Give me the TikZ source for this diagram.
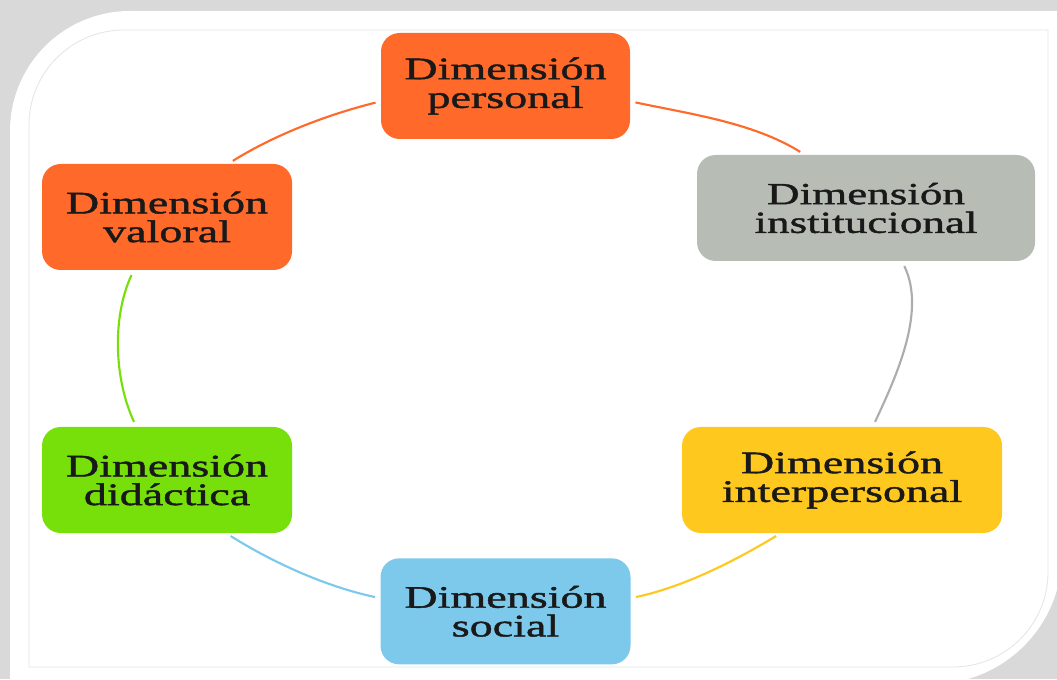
\documentclass[tikz,border=0pt]{standalone}
\usepackage{fontspec}
\usetikzlibrary{positioning}
\newfontfamily\dimfont[FakeStretch=1.47,FakeBold=1.4]{Liberation Serif}

\definecolor{naranja}{HTML}{FF6A2A}
\definecolor{gris}{HTML}{B7BDB5}
\definecolor{grisarco}{HTML}{ACAEAA}
\definecolor{amarillo}{HTML}{FFC81E}
\definecolor{celeste}{HTML}{7DC9EC}
\definecolor{verde}{HTML}{77E00B}
\definecolor{fondo}{HTML}{D9D9D9}
\definecolor{marco}{HTML}{E4E4E4}

\begin{document}
\begin{tikzpicture}[x=0.75pt,y=0.75pt,on grid,
 dim/.style={rectangle,rounded corners=14pt,inner sep=0pt,minimum width=187.5pt,minimum height=79.5pt,
  align=center,text=black!90,font=\dimfont\fontsize{23.5}{21.5}\selectfont},
 link/.style={line width=1.6pt,looseness=.85,shorten >=4pt,shorten <=4pt}]

 \useasboundingbox (0,0) rectangle (1057,679);
 \clip (0,0) rectangle (1057,679);
 % marco
 \fill[fondo] (0,0) rectangle (1057,679);
 \fill[white] (10,-5) -- (10,548) arc[start angle=180,end angle=90,radius=90pt]
  -- (1062,668) -- (1062,125) arc[start angle=0,end angle=-90,radius=97.5pt] -- cycle;
 \draw[marco,line width=0.6pt] (29,12) -- (29,554) arc[start angle=180,end angle=90,radius=71.25pt]
  -- (1048,649) -- (1048,107) arc[start angle=0,end angle=-90,radius=71.25pt] -- cycle;

 \node[dim,fill=naranja,minimum width=186.75pt] (per) at (505.5,593) {Dimensión\\personal};
 \node[dim,fill=gris,minimum width=253.5pt,font=\dimfont\fontsize{23}{21.5}\selectfont] (ins) [below right=91.5pt and 270.4pt of per] {Dimensión\\institucional};
 \node[dim,fill=amarillo,minimum width=240pt] (inter) [below left=204pt and 18pt of ins] {Dimensión\\interpersonal};
 \node[dim,fill=celeste] (soc) [below=394pt of per] {Dimensión\\social};
 \node[dim,fill=verde] (did) [left=506.25pt of inter] {Dimensión\\didáctica};
 \node[dim,fill=naranja] (val) [above=197.25pt of did] {Dimensión\\valoral};

 \path[link]
 (per.-7) edge[naranja,out=-12,in=148] (ins.139)
 (ins.-56) edge[grisarco,out=-64,in=65] (inter.60)
 (inter.221) edge[amarillo,out=211,in=12] (soc.6)
 (soc.174) edge[celeste,out=168,in=-32] (did.-42)
 (did.120) edge[verde,out=115,in=-115] (val.238)
 (val.41) edge[naranja,out=32,in=-166] (per.187);
\end{tikzpicture}
\end{document}
